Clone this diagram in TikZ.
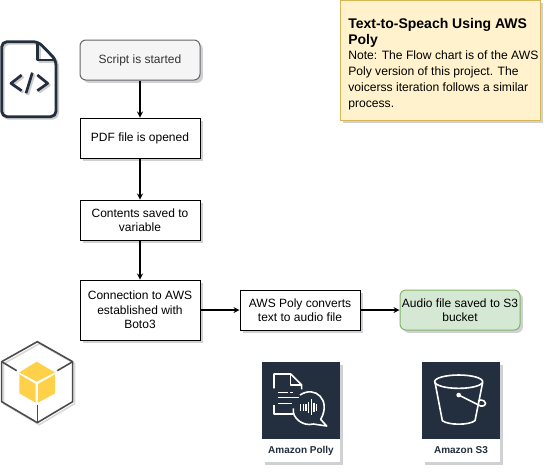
\documentclass[tikz,border=0pt]{standalone}
\usepackage{fontspec}
\setmainfont{Liberation Sans}
\usetikzlibrary{arrows,positioning,shadows}
\definecolor{navy}{HTML}{232F3E}
\definecolor{cubeyellow}{HTML}{FFD04A}
\definecolor{notefill}{HTML}{FFF2CC}
\definecolor{noteline}{HTML}{D6B656}
\definecolor{savedfill}{HTML}{D5E8D4}
\definecolor{savedline}{HTML}{82B366}
\tikzset{
  softshadow/.style={drop shadow={shadow xshift=2.2pt,shadow yshift=-2.2pt,opacity=0.22,fill=navy}},
  procbox/.style={draw,fill=white,line width=0.75pt,minimum width=90pt,minimum height=30pt,inner sep=1pt,align=center,font=\fontsize{9}{10.9}\selectfont,softshadow},
  startbox/.style={procbox,rounded corners=4.5pt,draw=black!60,fill=black!4,text=black!80},
  savedbox/.style={procbox,rounded corners=4.5pt,draw=savedline,fill=savedfill},
  notebox/.style={draw=noteline,fill=notefill,line width=0.75pt,minimum width=150pt,minimum height=90pt,softshadow},
  tileicon/.style={fill=navy,minimum width=58.5pt,minimum height=57.75pt,inner sep=0pt,softshadow},
  tilelabel/.style={fill=white,minimum width=58.5pt,minimum height=17.25pt,inner sep=0pt,text=navy,font=\fontsize{7.5}{8}\selectfont\bfseries,softshadow},
  whiteline/.style={draw=white,line width=1.2pt,line join=round},
  flowline/.style={->,line width=1pt}
}

\begin{document}
\begin{tikzpicture}[x=0.75pt,y=-0.75pt,>=stealth]
      \useasboundingbox (0,0) rectangle (552,472);

      % flow boxes
      \node[startbox] at (140,60)  (start) {Script is started};
      \node[procbox]  at (140,138) (pdf) {PDF file is opened};
      \node[procbox]  at (140,220) (contents) {Contents saved to\\variable};
      \node[procbox,minimum height=45pt] at (140,310) (boto) {Connection to AWS\\established with\\Boto3};
      \node[procbox]  at (300,310) (polly) {AWS Poly converts\\text to audio file};
      \node[savedbox] at (460,310) (saved) {Audio file saved to S3\\bucket};

      \draw[flowline] (start) edge (pdf);
      \draw[flowline] (pdf) edge (contents);
      \draw[flowline] (contents) edge (boto);
      \draw[flowline] (boto) edge (polly);
      \draw[flowline] (polly) edge (saved);

      % note
      \node[notebox] at (440,60) (note) {};
      \node[anchor=north west,inner sep=0pt,align=left] at (348,18) (notetext)
        {\fontsize{10.5}{12.7}\selectfont\bfseries Text-to-Speach Using AWS\\[0pt]
         \fontsize{10.5}{12.7}\selectfont\bfseries Poly\\[-1pt]
         \fontsize{9.1}{10.9}\selectfont Note: The Flow chart is of the AWS\\
         \fontsize{9.1}{10.9}\selectfont Poly version of this project. The\\
         \fontsize{9.1}{10.9}\selectfont voicerss iteration follows a similar\\
         \fontsize{9.1}{10.9}\selectfont process.};

      % code file icon
      \foreach \icolor/\ishift in {black!20/5,navy/0} {
        \begin{scope}[shift={(0,20)},x=0.25pt,y=-0.25pt,xshift=\ishift*0.25pt,yshift=-\ishift*0.25pt,draw=\icolor,line width=2.1pt,line join=round]
          \draw[rounded corners=4pt] (5,65) -- (115,65) -- (168,120) -- (168,290) -- (5,290) -- cycle;
          \draw (113,68) -- (113,120) -- (168,120);
          \draw[line width=2pt] (65,165) -- (33,190) -- (65,212);
          \draw[line width=2pt] (112,165) -- (143,190) -- (112,212);
          \draw[line width=2pt] (97,158) -- (78,220);
        \end{scope}
      }

      % cube icon
      \begin{scope}[shift={(0,330)},x=0.25pt,y=-0.25pt]
        \draw[black!15,line width=1.2pt,xshift=1.5pt,yshift=-1.5pt] (112,35) -- (218,95) -- (218,215) -- (112,278) -- (5,215) -- (5,95) -- cycle;
        \draw[black!70,line width=1.2pt,line join=round] (112,35) -- (218,95) -- (218,215) -- (112,278) -- (5,215) -- (5,95) -- cycle;
        \draw[black!70,line width=1.2pt] (5,95) -- (50,122);
        \draw[black!70,line width=1.2pt] (218,95) -- (172,122);
        \draw[black!70,line width=1.2pt] (112,278) -- (112,225);
        \fill[cubeyellow] (110,95) -- (165,127) -- (110,155) -- (58,127) -- cycle;
        \fill[cubeyellow] (58,133) -- (107,162) -- (107,218) -- (58,190) -- cycle;
        \fill[cubeyellow] (165,133) -- (114,162) -- (114,218) -- (165,190) -- cycle;
      \end{scope}

      % amazon polly tile
      \node[tileicon] at (301,400.5) (pollyicon) {};
      \node[tilelabel] at (301,450.5) (pollylabel) {Amazon Polly};
      \begin{scope}[shift={(250,350)},x=0.25pt,y=-0.25pt]
        \draw[whiteline] (72,115) -- (72,72) -- (122,72) -- (155,105) -- (155,118);
        \draw[whiteline] (122,72) -- (122,105) -- (155,105);
        \draw[whiteline] (72,165) -- (72,192) -- (130,192);
        \draw[whiteline] (85,127) -- (115,127) (120,127) -- (128,127);
        \draw[whiteline] (85,143) -- (148,143);
        \draw[whiteline] (85,160) -- (125,160);
        \draw[whiteline] (150,135) .. controls (195,105) and (245,150) .. (212,208) -- (230,228) -- (190,222) .. controls (160,230) and (125,205) .. (130,175);
        \foreach \ibar/\iy in {152/10,160/10,168/10,176/17,184/24,192/14,200/10} {
          \draw[white,line width=1pt] (\ibar,172-\iy) -- (\ibar,172+\iy);
        }
      \end{scope}

      % amazon s3 tile
      \node[tileicon] at (461,400.5) (s3icon) {};
      \node[tilelabel] at (461,450.5) (s3label) {Amazon S3};
      \begin{scope}[shift={(410,350)},x=0.25pt,y=-0.25pt]
        \draw[whiteline] (146,95) ellipse [x radius=72,y radius=20];
        \draw[whiteline] (75,97) -- (97,212) .. controls (115,226) and (177,226) .. (195,212) -- (218,97);
        \fill[white] (146,135) circle (7);
        \draw[whiteline] (146,135) -- (212,168) .. controls (232,170) and (232,150) .. (210,150) -- (205,155);
      \end{scope}
\end{tikzpicture}
\end{document}
